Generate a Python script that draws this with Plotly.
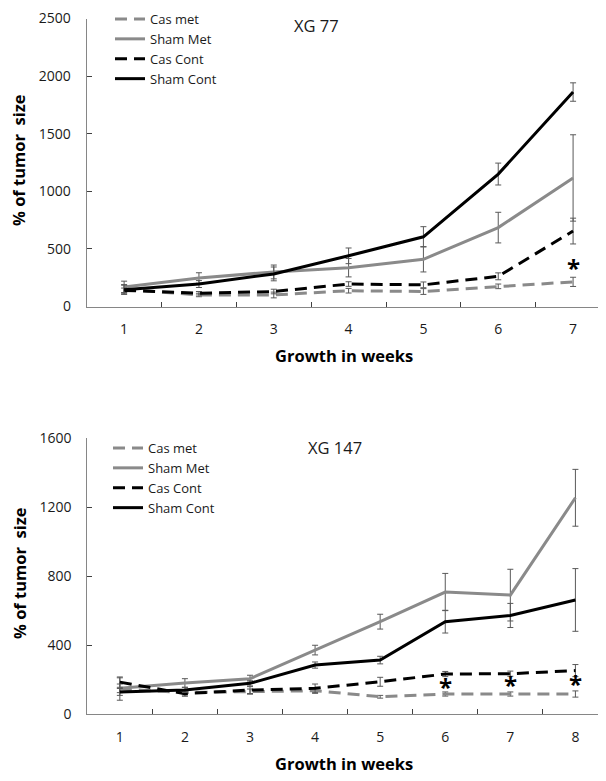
import plotly.graph_objects as go

# ---------------- data ----------------
weeks_top = ["1", "2", "3", "4", "5", "6", "7"]
top_cas_met = [150, 100, 100, 137, 130, 175, 214]
top_cas_met_err = [40, 15, 25, 20, 25, 20, 40]
top_sham_met = [170, 248, 300, 337, 410, 685, 1116]
top_sham_met_err = [50, 45, 60, 80, 110, 133, 375]
top_cas_cont = [140, 115, 130, 195, 188, 262, 655]
top_cas_cont_err = [20, 15, 20, 20, 25, 30, 112]
top_sham_cont = [145, 195, 283, 440, 605, 1150, 1862]
top_sham_cont_err = [40, 30, 60, 68, 88, 95, 80]

weeks_bot = ["1", "2", "3", "4", "5", "6", "7", "8"]
bot_cas_met = [145, 125, 130, 135, 100, 116, 116, 116]
bot_cas_met_err = [65, 15, 15, 15, 8, 12, 12, 18]
bot_sham_met = [149, 180, 205, 371, 536, 708, 690, 1255]
bot_sham_met_err = [25, 25, 20, 28, 43, 108, 150, 165]
bot_cas_cont = [185, 118, 139, 149, 187, 232, 234, 252]
bot_cas_cont_err = [30, 15, 20, 25, 26, 15, 15, 35]
bot_sham_cont = [128, 140, 178, 284, 313, 536, 572, 662]
bot_sham_cont_err = [20, 15, 15, 18, 22, 66, 70, 182]

top_ticks = [0, 500, 1000, 1500, 2000, 2500]
bot_ticks = [0, 400, 800, 1200, 1600]

top_star_weeks = ["7"]
top_star_y = [350]
bot_star_weeks = ["6", "7", "8"]
bot_star_y = [168, 176, 180]

series_names = ["Cas met", "Sham Met", "Cas Cont", "Sham Cont"]
# --------------------------------------

# page offset (default body margin) compensation
OX, OY = 8, 8
W, H = 606 - OX, 781 - OY
FONT = "Open Sans"
GRAY = "#8a8a8a"
ERRC = "#595959"
styles = [
    dict(color=GRAY, dash="12px,7px"),
    dict(color=GRAY, dash="solid"),
    dict(color="black", dash="12px,7px"),
    dict(color="black", dash="solid"),
]


def px(p):
    return (p - OX) / W


def py(p):
    return 1 - (p - OY) / H


fig = go.Figure()


def add_panel(weeks, ys, errs, xa, ya, legend):
    for name, y, e, st in zip(series_names, ys, errs, styles):
        fig.add_trace(go.Scatter(
            x=weeks, y=y, name=name, mode="lines",
            line=dict(color=st["color"], dash=st["dash"], width=3),
            error_y=dict(type="data", array=e, visible=True, color=ERRC,
                         thickness=1, width=3),
            xaxis=xa, yaxis=ya, legend=legend, hoverinfo="skip",
        ))


add_panel(weeks_top, [top_cas_met, top_sham_met, top_cas_cont, top_sham_cont],
          [top_cas_met_err, top_sham_met_err, top_cas_cont_err, top_sham_cont_err],
          "x", "y", "legend")
add_panel(weeks_bot, [bot_cas_met, bot_sham_met, bot_cas_cont, bot_sham_cont],
          [bot_cas_met_err, bot_sham_met_err, bot_cas_cont_err, bot_sham_cont_err],
          "x2", "y2", "legend2")

axis_common = dict(showgrid=False, zeroline=False, showline=True,
                   linecolor="#868686", linewidth=1, ticks="inside",
                   tickcolor="#404040", ticklen=5, tickwidth=1,
                   automargin=False, ticklabeloverflow="allow",
                   tickfont=dict(family=FONT, size=14, color="#1a1a1a"))

legend_common = dict(xanchor="left", yanchor="top",
                     font=dict(family=FONT, size=13, color="#1a1a1a"),
                     bgcolor="rgba(0,0,0,0)", tracegroupgap=0, itemwidth=30,
                     borderwidth=0)

fig.update_layout(
    width=W, height=H,
    margin=dict(l=0, r=0, t=0, b=0, pad=0, autoexpand=False),
    paper_bgcolor="white", plot_bgcolor="white", showlegend=True,
    hovermode=False,
    xaxis=dict(domain=[px(86.7), 1], anchor="y", type="category",
               tickson="boundaries", range=[-0.5, 6.44],
               ticklabelstandoff=10, **axis_common),
    yaxis=dict(domain=[py(306.5), py(18.5)], anchor="x", range=[0, 2500.5],
               tickvals=top_ticks, ticklabelstandoff=12, **axis_common),
    xaxis2=dict(domain=[px(87.3), 1], anchor="y2", type="category",
                tickson="boundaries", range=[-0.5, 7.47],
                ticklabelstandoff=10, **axis_common),
    yaxis2=dict(domain=[py(714), py(438.3)], anchor="x2", range=[0, 1600.3],
                tickvals=bot_ticks, ticklabelstandoff=12, **axis_common),
    legend=dict(x=px(110), y=py(4), **legend_common),
    legend2=dict(x=px(108), y=py(433), **legend_common),
)

ann = []
ann.append(dict(text="XG 77", x=px(292), y=py(26), xref="paper", yref="paper",
                xanchor="left", yanchor="middle", showarrow=False,
                font=dict(family=FONT, size=16.5, color="#1a1a1a")))
ann.append(dict(text="XG 147", x=px(306), y=py(447), xref="paper", yref="paper",
                xanchor="left", yanchor="middle", showarrow=False,
                font=dict(family=FONT, size=16.5, color="#1a1a1a")))
for yc in (160, 573):
    ann.append(dict(text="<b>% of tumor  size</b>", x=px(19), y=py(yc),
                    xref="paper", yref="paper", xanchor="center", yanchor="middle",
                    textangle=-90, showarrow=False,
                    font=dict(family=FONT, size=16.5, color="black")))
for yc in (355, 763):
    ann.append(dict(text="<b>Growth in weeks</b>", x=px(344), y=py(yc),
                    xref="paper", yref="paper", xanchor="center", yanchor="middle",
                    showarrow=False, font=dict(family=FONT, size=16.5, color="black")))
for xw, yv in zip(top_star_weeks, top_star_y):
    ann.append(dict(text="<b>*</b>", x=weeks_top.index(xw), y=yv, xref="x", yref="y",
                    xanchor="center", yanchor="middle", showarrow=False, yshift=-1,
                    font=dict(family=FONT, size=24, color="black")))
for xw, yv in zip(bot_star_weeks, bot_star_y):
    ann.append(dict(text="<b>*</b>", x=weeks_bot.index(xw), y=yv, xref="x2", yref="y2",
                    xanchor="center", yanchor="middle", showarrow=False, yshift=-1,
                    font=dict(family=FONT, size=24, color="black")))
fig.update_layout(annotations=ann)

fig.write_html("out.html", config={"staticPlot": True, "displayModeBar": False})
